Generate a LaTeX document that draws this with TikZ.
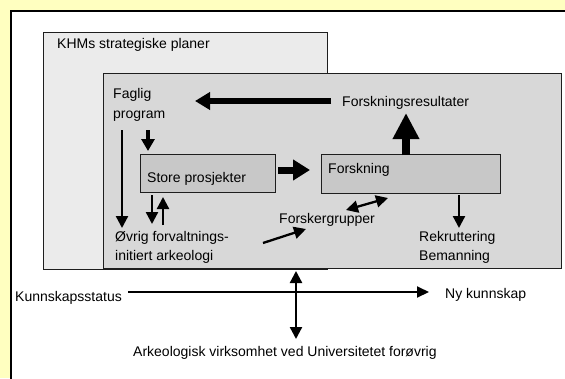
\documentclass[tikz,border=0pt]{standalone}
\usepackage{fontspec}
\setmainfont{Liberation Sans}
\usetikzlibrary{arrows.meta}
\definecolor{bgyellow}{RGB}{255,255,192}
\definecolor{outergray}{RGB}{235,235,235}
\definecolor{innergray}{RGB}{216,216,216}
\definecolor{boxgray}{RGB}{200,200,200}
\definecolor{edgecol}{RGB}{30,30,30}
\begin{document}
\begin{tikzpicture}[x=1pt,y=-1pt,
  font=\fontsize{14}{19.5}\selectfont,
  txt/.style={anchor=west, inner sep=0pt, align=left},
  panel/.style={draw=edgecol, line width=0.9pt, anchor=north west, inner sep=0pt},
  thinarrow/.style={line width=2.3pt, -{Triangle[length=12pt,width=12pt]}},
  thindouble/.style={line width=2.3pt, {Triangle[length=12pt,width=12pt]}-{Triangle[length=12pt,width=12pt]}},
]
\fill[bgyellow] (0,0) rectangle (565,378);
\useasboundingbox (0,0) rectangle (565,378);
\fill[white] (11,11) rectangle (575,390);
\draw[line width=2pt] (11,390) -- (11,11) -- (575,11);

% panels
\node[panel, fill=outergray, minimum width=284pt, minimum height=237pt] (khm) at (43,32) {};
\node[panel, fill=innergray, minimum width=458pt, minimum height=195pt] (inst) at (103,73) {};
\node[panel, fill=boxgray, minimum width=135pt, minimum height=38pt] (store) at (140,154) {};
\node[panel, fill=boxgray, minimum width=179pt, minimum height=39pt] (forsk) at (321,154) {};

% texts
\node[txt] (khmtxt) at (57,45) {KHMs strategiske planer};
\node[txt] (faglig) at (113,105) {Faglig\\program};
\node[txt] (storetxt) at (147,179) {Store prosjekter};
\node[txt] (forsktxt) at (328,170) {Forskning};
\node[txt] (res) at (342,103) {Forskningsresultater};
\node[txt] (grupper) at (279,220) {Forskergrupper};
\node[txt] (ovrig) at (115,247.5) {Øvrig forvaltnings-\\initiert arkeologi};
\node[txt] (rekr) at (419,247.5) {Rekruttering\\Bemanning};
\node[txt] (status) at (15,298) {Kunnskapsstatus};
\node[txt] (ny) at (445,295) {Ny kunnskap};
\node[txt] (ark) at (133,353) {Arkeologisk virksomhet ved Universitetet forøvrig};

% coordinates
\coordinate (restail) at (331,101);
\coordinate (restip) at (195,101);
\coordinate (uptail) at (406,155);
\coordinate (uptip) at (406,113);
\coordinate (sftail) at (278,170);
\coordinate (sftip) at (310,170);
\coordinate (fpa) at (148,130);
\coordinate (fpb) at (148,151);
\coordinate (fla) at (122,130);
\coordinate (flb) at (122,228);
\coordinate (sda) at (152,195);
\coordinate (sdb) at (152,224);
\coordinate (sua) at (163,225);
\coordinate (sub) at (163,197);
\coordinate (oga) at (263,243);
\coordinate (ogb) at (306,229);
\coordinate (gfa) at (346,210);
\coordinate (gfb) at (388,198);
\coordinate (rka) at (459,195);
\coordinate (rkb) at (459,228);
\coordinate (vta) at (296,271);
\coordinate (vtb) at (296,339);
\coordinate (hza) at (128,292);
\coordinate (hzb) at (429,292);

% arrows
\draw[line width=6pt, -{Triangle[length=15pt,width=17pt]}] (restail) -- (restip);
\draw[line width=8pt, -{Triangle[length=26pt,width=25pt]}] (uptail) -- (uptip);
\draw[line width=7pt, -{Triangle[length=17pt,width=20pt]}] (sftail) -- (sftip);
\draw[line width=3.5pt, -{Triangle[length=12pt,width=13pt]}] (fpa) -- (fpb);
\draw[thinarrow] (fla) -- (flb);
\draw[thinarrow] (sda) -- (sdb);
\draw[thinarrow] (sua) -- (sub);
\draw[thinarrow] (oga) -- (ogb);
\draw[thindouble] (gfa) -- (gfb);
\draw[thinarrow] (rka) -- (rkb);
\draw[thindouble] (vta) -- (vtb);
\draw[line width=2pt, -{Triangle[length=12pt,width=11pt]}] (hza) -- (hzb);
\end{tikzpicture}
\end{document}
